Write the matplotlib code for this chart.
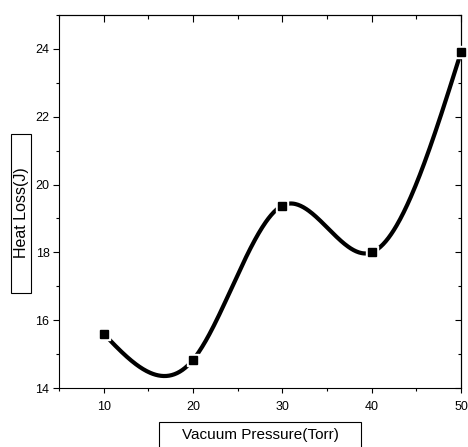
import numpy as np
import matplotlib as mpl
mpl.use('Agg')
import matplotlib.pyplot as plt
from matplotlib.patches import Rectangle
from matplotlib.ticker import MultipleLocator

# data
pressure = [10, 20, 30, 40, 50]
heat_loss = [15.6, 14.83, 19.38, 18.0, 23.9]
xlabel = 'Vacuum Pressure(Torr)'
ylabel = 'Heat Loss(J)'

plt.rcParams['font.family'] = ['Liberation Sans', 'DejaVu Sans']


def natural_spline(x, y, n=400):
    # natural cubic spline through the measured points (Origin "spline" connect)
    x = np.asarray(x, float)
    y = np.asarray(y, float)
    h = np.diff(x)
    k = len(x)
    A = np.zeros((k, k))
    b = np.zeros(k)
    A[0, 0] = A[-1, -1] = 1
    for i in range(1, k - 1):
        A[i, i - 1] = h[i - 1]
        A[i, i] = 2 * (h[i - 1] + h[i])
        A[i, i + 1] = h[i]
        b[i] = 6 * ((y[i + 1] - y[i]) / h[i] - (y[i] - y[i - 1]) / h[i - 1])
    M = np.linalg.solve(A, b)
    xs = np.linspace(x[0], x[-1], n)
    j = np.clip(np.searchsorted(x, xs) - 1, 0, k - 2)
    t = (xs - x[j]) / h[j]
    ys = ((1 - t) * y[j] + t * y[j + 1]
          + h[j] ** 2 / 6 * (((1 - t) ** 3 - (1 - t)) * M[j] + (t ** 3 - t) * M[j + 1]))
    return xs, ys


fig = plt.figure(figsize=(4.68, 4.47), dpi=100)
ax = fig.add_axes([59 / 468, 59 / 447, 402 / 468, 373 / 447])

xs, ys = natural_spline(pressure, heat_loss)
ax.plot(xs, ys, color='black', lw=3.0, solid_capstyle='butt', zorder=2)
ax.plot(pressure, heat_loss, ls='none', marker='s', ms=8.5, color='white', zorder=3, clip_on=False)
ax.plot(pressure, heat_loss, ls='none', marker='s', ms=6, color='black', zorder=4, clip_on=False)

ax.set_xlim(5, 50)
ax.set_ylim(14, 25)
ax.xaxis.set_major_locator(MultipleLocator(10))
ax.xaxis.set_minor_locator(MultipleLocator(5))
ax.yaxis.set_minor_locator(MultipleLocator(1))
ax.set_yticks([14, 16, 18, 20, 22, 24])
ax.tick_params(which='major', direction='out', length=4.3, width=0.8, labelsize=9)
ax.tick_params(which='minor', direction='out', length=2.3, width=0.8)
ax.tick_params(axis='x', which='major', length=3.6, pad=6)
ax.tick_params(axis='y', which='major', pad=2.5)
for s in ax.spines.values():
    s.set_linewidth(0.8)

# top and right: inward ticks, no labels
top = ax.secondary_xaxis('top')
top.xaxis.set_major_locator(MultipleLocator(10))
top.xaxis.set_minor_locator(MultipleLocator(5))
top.tick_params(which='major', direction='in', length=5, width=0.8, labeltop=False)
top.tick_params(which='minor', direction='in', length=3, width=0.8)
right = ax.secondary_yaxis('right')
right.yaxis.set_major_locator(MultipleLocator(2))
right.yaxis.set_minor_locator(MultipleLocator(1))
right.tick_params(which='major', direction='in', length=4, width=0.8, labelright=False)
right.tick_params(which='minor', direction='in', length=2.5, width=0.8)
for sa in (top, right):
    for s in sa.spines.values():
        s.set_linewidth(0.8)

# boxed axis titles
fig.add_artist(Rectangle((159 / 468, -0.01), 202 / 468, (447 - 422) / 447 + 0.01,
                         transform=fig.transFigure, fill=False, lw=0.8, ec='black'))
fig.text(260 / 468, 1 - 435 / 447, xlabel, ha='center', va='center', fontsize=11)
fig.add_artist(Rectangle((11 / 468, 1 - 293 / 447), 20 / 468, 159 / 447,
                         transform=fig.transFigure, fill=False, lw=0.8, ec='black'))
fig.text(21.5 / 468, 1 - 213 / 447, ylabel, ha='center', va='center',
         rotation=90, fontsize=11.5)

fig.savefig('out.png', dpi=100)
